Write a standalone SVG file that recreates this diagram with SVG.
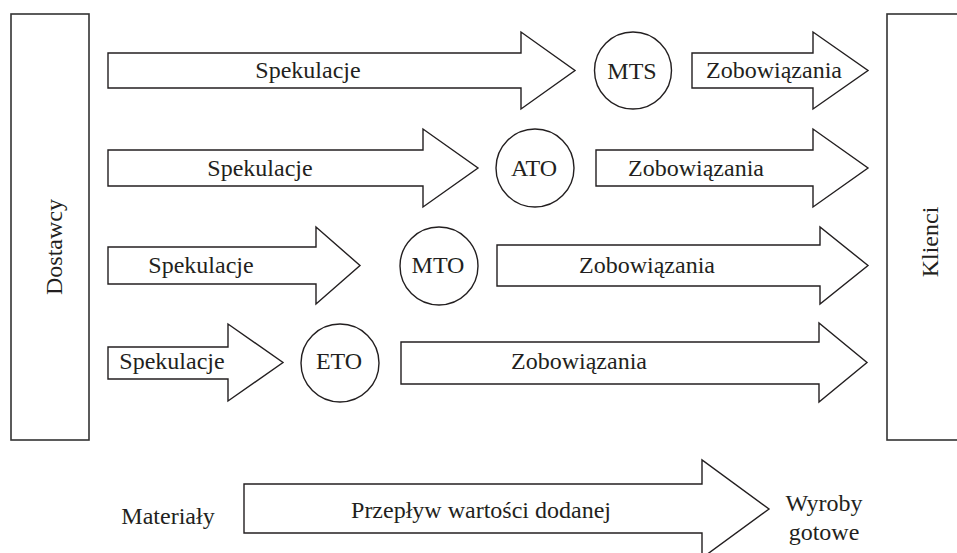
<svg xmlns="http://www.w3.org/2000/svg" width="957" height="553" viewBox="0 0 957 553">
<style>
.s{fill:#fff;stroke:#231f20;stroke-width:1.4;stroke-linejoin:miter}
.b{fill:#fff;stroke:#333;stroke-width:1.6}
text{font-family:"Liberation Serif","Times New Roman",serif;font-size:24px;fill:#231f20;text-anchor:middle}
</style>
<rect width="957" height="553" fill="#fff"/>
<g id="dostawcy">
<rect class="b" x="11" y="14" width="78" height="426"/>
<text transform="translate(62,247) rotate(-90)">Dostawcy</text>
</g>
<g id="klienci">
<rect class="b" x="887" y="14" width="90" height="426"/>
<text transform="translate(938,242) rotate(-90)">Klienci</text>
</g>
<g id="connectors">
<g id="row1-spek"><polygon class="s" points="108,53 521,53 521,32 575,70.5 521,109 521,88 108,88"/><text x="308" y="78">Spekulacje</text></g>
<g id="row1-zob"><polygon class="s" points="692,53 813,53 813,32 868,70.5 813,109 813,88 692,88"/><text x="774" y="78">Zobowiązania</text></g>
<g id="row2-spek"><polygon class="s" points="108,150 423,150 423,129 478,168 423,207 423,186 108,186"/><text x="260" y="176">Spekulacje</text></g>
<g id="row2-zob"><polygon class="s" points="596,150 813,150 813,129 868,168 813,207 813,186 596,186"/><text x="696" y="176">Zobowiązania</text></g>
<g id="row3-spek"><polygon class="s" points="108,247 316,247 316,227 360,265.5 316,304 316,284 108,284"/><text x="201" y="273">Spekulacje</text></g>
<g id="row3-zob"><polygon class="s" points="497,245 820,245 820,227 868,265.5 820,304 820,286 497,286"/><text x="647" y="273">Zobowiązania</text></g>
<g id="row4-spek"><polygon class="s" points="108,347 228,347 228,324 283,362.5 228,401 228,379 108,379"/><text x="172" y="369">Spekulacje</text></g>
<g id="row4-zob"><polygon class="s" points="401,342 819,342 819,323 867,362.5 819,402 819,384 401,384"/><text x="579" y="369">Zobowiązania</text></g>
<g id="flow"><polygon class="s" points="244,484 702,484 702,460 769,509 702,558 702,533 244,533"/><text x="481" y="518">Przepływ wartości dodanej</text></g>
</g>
<g id="mts"><circle class="s" cx="633" cy="70.5" r="38.5"/><text x="632" y="79">MTS</text></g>
<g id="ato"><circle class="s" cx="535" cy="168" r="39"/><text x="534" y="176">ATO</text></g>
<g id="mto"><circle class="s" cx="439" cy="266" r="39"/><text x="438" y="273">MTO</text></g>
<g id="eto"><circle class="s" cx="340" cy="363" r="39"/><text x="339" y="369">ETO</text></g>
<g id="materialy"><text x="168" y="524">Materiały</text></g>
<g id="wyroby"><text x="824" y="511">Wyroby</text><text x="824" y="540">gotowe</text></g>
</svg>
